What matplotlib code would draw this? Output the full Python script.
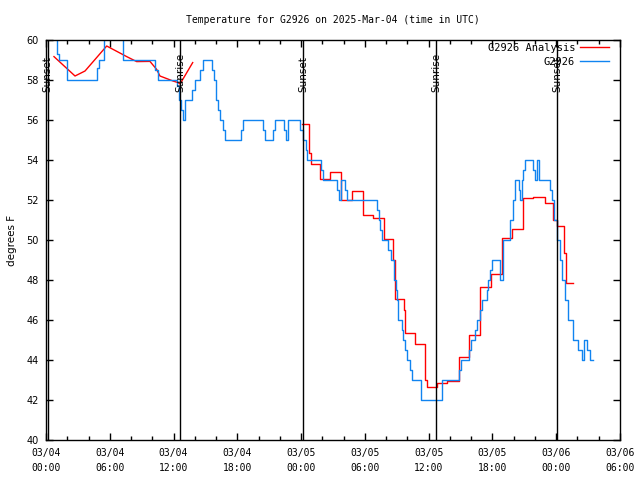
import matplotlib
matplotlib.use('Agg')
import matplotlib.pyplot as plt
from datetime import datetime, timedelta

plt.rcParams['font.family'] = 'DejaVu Sans Mono'
plt.rcParams['axes.linewidth'] = 1.0

start = datetime(2025, 3, 4, 0, 0)

# station observations (hours since 03/04 00:00 UTC, degrees F), step data
obs_hours = [0.0, 1.06, 1.25, 2.00, 4.83, 4.99, 5.46, 7.27, 10.25, 10.54,
             12.30, 12.51, 12.70, 12.86, 13.08, 13.78, 14.02, 14.49, 14.77, 15.62,
             15.80, 15.99, 16.18, 16.37, 16.62, 16.84, 18.34, 18.53, 20.41, 20.60,
             21.35, 21.54, 22.39, 22.58, 22.77, 23.89, 24.18, 24.46, 24.58, 25.87,
             26.06, 27.37, 27.56, 27.72, 28.10, 28.32, 31.14, 31.33, 31.42, 31.58,
             32.17, 32.43, 32.74, 32.93, 33.02, 33.14, 33.49, 33.61, 33.77, 33.99,
             34.24, 34.40, 35.28, 37.22, 38.85, 39.01, 39.80, 39.95, 40.36, 40.52,
             40.83, 40.99, 41.46, 41.61, 41.77, 41.93, 42.71, 42.96, 43.65, 43.96,
             44.12, 44.50, 44.59, 44.75, 44.87, 45.06, 45.84, 46.00, 46.19, 46.38,
             47.41, 47.60, 47.82, 48.04, 48.35, 48.51, 48.82, 49.11, 49.60, 50.05,
             50.39, 50.61, 50.89, 51.18, 51.43]
obs_temp = [61.0, 59.3, 59.0, 58.0, 58.6, 59.0, 61.0, 59.0, 58.5, 58.0,
            57.7, 57.0, 56.5, 56.0, 57.0, 57.5, 58.0, 58.5, 59.0, 58.5,
            58.0, 57.0, 56.5, 56.0, 55.5, 55.0, 55.5, 56.0, 55.5, 55.0,
            55.5, 56.0, 55.5, 55.0, 56.0, 55.5, 55.0, 54.5, 54.0, 53.5,
            53.0, 52.5, 52.0, 53.0, 52.5, 52.0, 51.5, 51.0, 50.5, 50.0,
            49.5, 49.0, 48.0, 47.5, 47.0, 46.0, 45.5, 45.0, 44.5, 44.0,
            43.5, 43.0, 42.0, 43.0, 43.5, 44.0, 44.5, 45.0, 45.5, 46.0,
            46.5, 47.0, 47.5, 48.0, 48.5, 49.0, 48.0, 50.0, 51.0, 52.0,
            53.0, 52.5, 52.0, 53.0, 53.5, 54.0, 53.5, 53.0, 54.0, 53.0,
            52.5, 52.0, 51.0, 50.0, 49.0, 48.0, 47.0, 46.0, 45.0, 44.5,
            44.0, 45.0, 44.5, 44.0, 44.0]

# analysis, first day (smooth part)
ana1_hours = [0.75, 2.73, 3.67, 5.71, 7.59, 8.53, 9.78, 10.41, 10.72, 11.95,
              12.42, 12.61, 13.80]
ana1_temp = [59.17, 58.2, 58.45, 59.7, 59.17, 58.92, 58.93, 58.53, 58.2, 57.95,
             57.87, 57.8, 58.87]

# analysis, from 03/05 (step data)
ana2_hours = [24.11, 24.74, 24.90, 25.77, 26.71, 27.72, 28.76, 29.79, 30.76, 31.80,
              32.67, 32.83, 33.68, 33.77, 34.71, 35.70, 35.87, 36.75, 37.72, 38.88,
              39.82, 40.83, 41.83, 42.87, 43.87, 44.90, 45.78, 46.94, 47.72, 48.04,
              48.76, 48.92, 49.60]
ana2_temp = [55.78, 54.33, 53.8, 53.05, 53.42, 52.0, 52.45, 51.25, 51.12, 50.03,
             49.0, 47.03, 46.5, 45.33, 44.8, 43.0, 42.67, 42.87, 42.95, 44.17,
             45.25, 47.67, 48.28, 50.08, 50.53, 52.08, 52.13, 51.83, 51.0, 50.7,
             49.33, 47.87, 47.87]

sun_hours = [0.15, 12.61, 24.18, 36.69, 48.1]
sun_labels = ['Sunset', 'Sunrise', 'Sunset', 'Sunrise', 'Sunset']

fig = plt.figure(figsize=(6.4, 4.8), dpi=100)
ax = fig.add_axes([46 / 640, 40 / 480, 574 / 640, 400 / 480])

red = '#ff0000'
blue = '#1084f0'

ax.plot(ana1_hours, ana1_temp, color=red, lw=1.0, label='G2926 Analysis')
ax.step(ana2_hours, ana2_temp, where='post', color=red, lw=1.0)
ax.step(obs_hours, obs_temp, where='post', color=blue, lw=1.0, label='G2926')

for h, lab in zip(sun_hours, sun_labels):
    ax.axvline(h, color='black', lw=1.0)
    ax.text(h, 57.4, lab, rotation=90, ha='center', va='bottom',
            family='DejaVu Sans', fontsize=7.5)

ax.set_xlim(0, 54)
ax.set_ylim(40, 60)

major = list(range(0, 55, 6))
ax.set_xticks(major)
ax.set_xticklabels([(start + timedelta(hours=h)).strftime('%m/%d\n%H:%M') for h in major],
                   fontsize=7, linespacing=1.6)
ax.set_xticks(list(range(0, 55, 2)), minor=True)
ax.set_yticks(list(range(40, 61, 2)))
ax.set_yticklabels([str(v) for v in range(40, 61, 2)], family='DejaVu Sans', fontsize=7)

ax.tick_params(axis='both', which='both', direction='in', top=True, right=True)
ax.tick_params(axis='both', which='major', length=5, width=1)
ax.tick_params(axis='x', which='minor', length=3, width=1)
ax.tick_params(axis='x', which='major', pad=6)
ax.tick_params(axis='y', which='major', pad=5)

ax.set_ylabel('degrees F', family='DejaVu Sans', fontsize=7.5, labelpad=7)
ax.set_title('Temperature for G2926 on 2025-Mar-04 (time in UTC)', fontsize=7, pad=12)

ax.legend(loc='upper right', frameon=False, markerfirst=False, fontsize=7.5,
          handlelength=2.8, handletextpad=0.45, labelspacing=0.35,
          borderpad=0, borderaxespad=0, bbox_to_anchor=(1 - 11 / 574, 1 - 3 / 400))

fig.savefig('out.png', dpi=100)
